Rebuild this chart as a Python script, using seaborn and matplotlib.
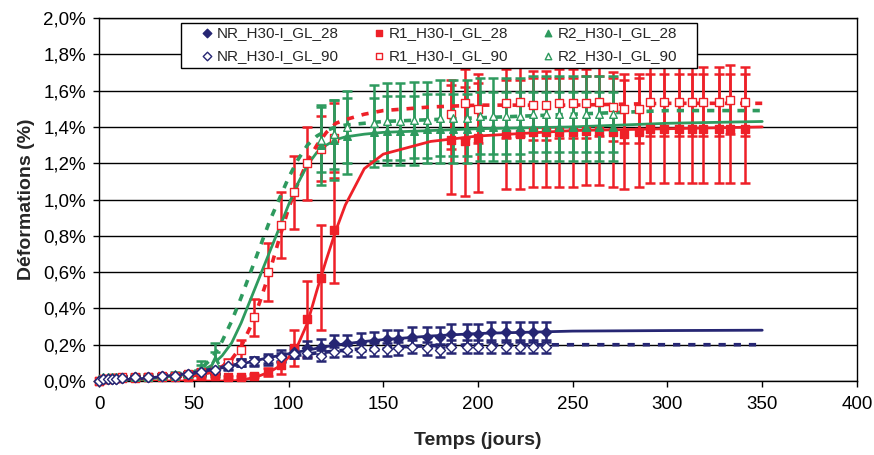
import matplotlib
matplotlib.use("Agg")
import matplotlib.pyplot as plt
from matplotlib.patches import Rectangle
import seaborn as sns
from matplotlib.ticker import FuncFormatter, MultipleLocator

# measured points (days, % deformation, half error bar)
nr_days = [0, 2, 5, 7, 9, 12, 19, 26, 33, 40, 47, 54, 61, 68, 75, 82, 89, 96, 103, 110,
           117, 124, 131, 138, 145, 152, 158, 165, 173, 180, 186, 194, 200, 207, 215, 222, 229, 236]
nr28_vals = [0.0, 0.01, 0.01, 0.01, 0.01, 0.015, 0.02, 0.02, 0.03, 0.03, 0.04, 0.05, 0.06, 0.08,
             0.10, 0.11, 0.12, 0.14, 0.16, 0.18, 0.19, 0.21, 0.21, 0.215, 0.22, 0.23, 0.23, 0.24,
             0.24, 0.24, 0.26, 0.26, 0.26, 0.27, 0.27, 0.27, 0.27, 0.27]
nr28_err = [0.005, 0.005, 0.005, 0.005, 0.005, 0.01, 0.01, 0.01, 0.01, 0.01, 0.01, 0.015, 0.02,
            0.02, 0.02, 0.025, 0.03, 0.03, 0.035, 0.04, 0.04, 0.045, 0.045, 0.05, 0.05, 0.05, 0.05,
            0.055, 0.055, 0.055, 0.055, 0.055, 0.055, 0.055, 0.055, 0.055, 0.055, 0.055]
nr90_vals = [0.0, 0.01, 0.01, 0.01, 0.01, 0.015, 0.02, 0.02, 0.03, 0.03, 0.04, 0.05, 0.06, 0.08,
             0.10, 0.11, 0.12, 0.13, 0.15, 0.155, 0.14, 0.16, 0.17, 0.17, 0.175, 0.175, 0.18, 0.19,
             0.18, 0.17, 0.19, 0.19, 0.19, 0.19, 0.19, 0.19, 0.19, 0.19]
nr90_err = [0.005, 0.005, 0.005, 0.005, 0.005, 0.01, 0.01, 0.01, 0.01, 0.01, 0.01, 0.01, 0.015,
            0.015, 0.02, 0.02, 0.02, 0.025, 0.025, 0.03, 0.03, 0.03, 0.03, 0.035, 0.035, 0.035,
            0.035, 0.035, 0.035, 0.035, 0.035, 0.035, 0.035, 0.035, 0.035, 0.035, 0.035, 0.035]

r1_days = [0, 2, 5, 7, 9, 12, 19, 26, 33, 40, 47, 54, 61, 68, 75, 82, 89, 96, 103, 110, 117, 124,
           186, 193, 200, 215, 222, 229, 236, 243, 250, 257, 264, 271, 277, 285, 291, 298, 306,
           313, 319, 327, 333, 341]
r128_vals = [0.0, 0.01, 0.01, 0.015, 0.015, 0.015, 0.015, 0.02, 0.02, 0.02, 0.02, 0.025, 0.03,
             0.02, 0.02, 0.03, 0.05, 0.09, 0.18, 0.34, 0.57, 0.83, 1.33, 1.32, 1.34, 1.36, 1.36,
             1.37, 1.37, 1.37, 1.37, 1.38, 1.38, 1.37, 1.36, 1.37, 1.39, 1.39, 1.39, 1.39, 1.39,
             1.39, 1.39, 1.39]
r128_err = [0.005] * 6 + [0.01] * 7 + [0.01, 0.01, 0.01, 0.02, 0.05, 0.10, 0.21, 0.29, 0.29] + [0.30] * 22
r190_vals = [0.0, 0.01, 0.01, 0.015, 0.015, 0.02, 0.02, 0.02, 0.03, 0.03, 0.04, 0.05, 0.06, 0.10,
             0.17, 0.35, 0.60, 0.86, 1.04, 1.20, 1.28, 1.34, 1.47, 1.53, 1.50, 1.53, 1.54, 1.52,
             1.52, 1.53, 1.53, 1.53, 1.54, 1.51, 1.50, 1.50, 1.54, 1.54, 1.54, 1.54, 1.54, 1.54,
             1.55, 1.54]
r190_err = [0.005] * 6 + [0.01] * 6 + [0.015] + [0.02, 0.055, 0.10, 0.16, 0.18, 0.20, 0.20, 0.18, 0.19] + [0.19] * 22

r2_days = [0, 2, 5, 7, 9, 12, 19, 26, 33, 40, 47, 54, 61, 117, 124, 131, 145, 152, 159, 166, 173,
           180, 187, 194, 201, 208, 215, 222, 229, 236, 243, 250, 257, 264, 271]
r228_vals = [0.01, 0.02, 0.02, 0.02, 0.02, 0.02, 0.02, 0.02, 0.03, 0.03, 0.04, 0.07, 0.12, 1.30,
             1.33, 1.35, 1.37, 1.38, 1.38, 1.38, 1.39, 1.39, 1.39, 1.39, 1.40, 1.40, 1.40, 1.40,
             1.40, 1.40, 1.40, 1.40, 1.40, 1.40, 1.40]
r228_err = [0.005] * 6 + [0.01] * 5 + [0.04, 0.09] + [0.22, 0.22, 0.21] + [0.19] * 19
r290_vals = [0.01, 0.02, 0.02, 0.02, 0.02, 0.02, 0.03, 0.03, 0.03, 0.04, 0.04, 0.06, 0.10, 1.33,
             1.36, 1.40, 1.42, 1.43, 1.43, 1.44, 1.44, 1.45, 1.45, 1.45, 1.46, 1.46, 1.46, 1.46,
             1.47, 1.47, 1.47, 1.47, 1.47, 1.47, 1.47]
r290_err = [0.005] * 6 + [0.01] * 5 + [0.03, 0.06] + [0.18, 0.19, 0.2] + [0.21] * 19

# fitted curves
fit_days = [0, 25, 50, 55, 60, 65, 70, 75, 80, 85, 90, 95, 100, 105, 110, 115, 120, 125, 130,
            140, 150, 175, 200, 250, 300, 350]
nr28_fit = [0.0, 0.015, 0.045, 0.055, 0.065, 0.075, 0.085, 0.095, 0.105, 0.118, 0.13, 0.14, 0.15,
            0.16, 0.17, 0.18, 0.19, 0.198, 0.205, 0.218, 0.228, 0.248, 0.262, 0.275, 0.278, 0.28]
nr90_fit = [0.0, 0.015, 0.045, 0.055, 0.065, 0.075, 0.085, 0.095, 0.105, 0.113, 0.12, 0.128, 0.135,
            0.142, 0.148, 0.155, 0.16, 0.165, 0.17, 0.178, 0.185, 0.195, 0.198, 0.2, 0.2, 0.2]
r128_fit = [0.0, 0.0, 0.0, 0.0, 0.0, 0.0, 0.0, 0.005, 0.015, 0.03, 0.05, 0.08, 0.13, 0.2, 0.32, 0.5,
            0.67, 0.83, 0.97, 1.17, 1.25, 1.32, 1.35, 1.38, 1.39, 1.40]
r190_fit = [0.0, 0.015, 0.03, 0.04, 0.05, 0.08, 0.12, 0.19, 0.3, 0.44, 0.6, 0.78, 0.95, 1.09, 1.21,
            1.3, 1.37, 1.42, 1.44, 1.47, 1.49, 1.51, 1.52, 1.52, 1.53, 1.53]
r228_fit = [0.0, 0.01, 0.04, 0.06, 0.09, 0.14, 0.21, 0.32, 0.45, 0.58, 0.71, 0.84, 0.97, 1.09, 1.19,
            1.26, 1.3, 1.33, 1.345, 1.36, 1.37, 1.38, 1.39, 1.40, 1.42, 1.43]
r290_fit = [0.0, 0.015, 0.05, 0.08, 0.13, 0.22, 0.33, 0.46, 0.6, 0.74, 0.88, 1.0, 1.12, 1.22, 1.3,
            1.35, 1.38, 1.4, 1.41, 1.42, 1.43, 1.44, 1.45, 1.47, 1.49, 1.49]

NAVY = "#262673"
RED = "#EE2028"
GREEN = "#2E9A5E"

series = [
    ("NR_H30-I_GL_28", nr_days, nr28_vals, nr28_err, nr28_fit, NAVY, "D", True, "-"),
    ("NR_H30-I_GL_90", nr_days, nr90_vals, nr90_err, nr90_fit, NAVY, "D", False, "--"),
    ("R1_H30-I_GL_28", r1_days, r128_vals, r128_err, r128_fit, RED, "s", True, "-"),
    ("R1_H30-I_GL_90", r1_days, r190_vals, r190_err, r190_fit, RED, "s", False, "--"),
    ("R2_H30-I_GL_28", r2_days, r228_vals, r228_err, r228_fit, GREEN, "^", True, "-"),
    ("R2_H30-I_GL_90", r2_days, r290_vals, r290_err, r290_fit, GREEN, "^", False, "--"),
]

sns.set_theme(style="ticks")
plt.rcParams["font.family"] = ["Liberation Sans", "DejaVu Sans"]

fig = plt.figure(figsize=(8.74, 4.55), dpi=100)
ax = fig.add_axes([0.1133, 0.1626, 0.8672, 0.7978])

draw_order = [2, 3, 4, 5, 0, 1]
for i in draw_order:
    label, days, vals, err, fit, color, marker, filled, ls = series[i]
    ax.errorbar(days, vals, yerr=err, fmt="none", ecolor=color, elinewidth=1.8,
                capsize=3.6, capthick=1.8, zorder=3)
    line_kws = dict(color=color, linewidth=2.0 if ls == "-" else 2.6, ax=ax, zorder=4)
    if ls == "--":
        line_kws["linestyle"] = (0, (2.0, 2.2))
    sns.lineplot(x=fit_days, y=fit, **line_kws)
    size = 30 if marker != "D" else 26
    sns.scatterplot(x=days, y=vals, marker=marker, s=size, ax=ax, label=label,
                    facecolor=color if filled else "white", edgecolor=color,
                    linewidth=1.0, zorder=5, clip_on=False)

ax.set_xlim(0, 400)
ax.set_ylim(0, 2.0)
ax.xaxis.set_major_locator(MultipleLocator(50))
ax.yaxis.set_major_locator(MultipleLocator(0.2))
ax.yaxis.set_major_formatter(FuncFormatter(lambda v, _: f"{v:.1f}%".replace(".", ",")))
ax.yaxis.grid(True, color="black", linewidth=1.0)
ax.set_axisbelow(True)
for sp in ax.spines.values():
    sp.set_visible(True)
    sp.set_color("black")
    sp.set_linewidth(1.0)
ax.tick_params(axis="both", labelsize=13.5, colors="black", length=4.5, width=1)
ax.tick_params(axis="x", pad=6)
ax.tick_params(axis="y", pad=5)
ax.set_xlabel("Temps (jours)", fontsize=14, fontweight="bold", labelpad=14)
ax.set_ylabel("Déformations (%)", fontsize=14, fontweight="bold", labelpad=6)

# legend box drawn separately so the frame matches the original exactly
ax.add_patch(Rectangle((0.108, 0.862), 0.681, 0.124, transform=ax.transAxes,
                       facecolor="white", edgecolor="black", linewidth=1.0,
                       zorder=6, clip_on=False))
h, l = ax.get_legend_handles_labels()
order = [l.index(s[0]) for s in series]
leg = ax.legend([h[k] for k in order], [l[k] for k in order], ncol=3,
                loc="upper left", bbox_to_anchor=(0.1346, 0.977), borderaxespad=0,
                fontsize=11, frameon=False, handletextpad=0.25, columnspacing=2.2,
                handlelength=0.8, labelspacing=0.55, borderpad=0.0, markerscale=0.85)
leg.set_zorder(7)

fig.savefig("out.png", dpi=100)
